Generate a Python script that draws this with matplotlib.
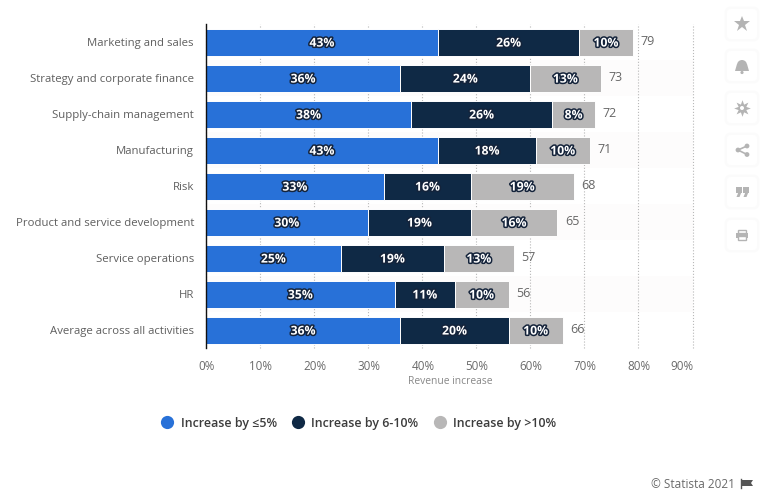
#!/usr/bin/env python3
"""AI revenue increase by business activity, stacked bars in the Statista look."""

import matplotlib
matplotlib.use("Agg")
import matplotlib.pyplot as plt
import matplotlib.patheffects as pe
from matplotlib.patches import Circle, FancyBboxPatch, Polygon, Rectangle, Wedge
from matplotlib.transforms import ScaledTranslation

W, H = 768, 493

categories = ["Marketing and sales", "Strategy and corporate finance", "Supply-chain management",
              "Manufacturing", "Risk", "Product and service development", "Service operations",
              "HR", "Average across all activities"]
low = [43, 36, 38, 43, 33, 30, 25, 35, 36]
mid = [26, 24, 26, 18, 16, 19, 19, 11, 20]
high = [10, 13, 8, 10, 19, 16, 13, 10, 10]
totals = [79, 73, 72, 71, 68, 65, 57, 56, 66]
series_names = ["Increase by ≤5%", "Increase by 6-10%", "Increase by >10%"]
x_ticks = [0, 10, 20, 30, 40, 50, 60, 70, 80, 90]

BLUE, NAVY, GREY = "#2871d8", "#0f2945", "#b8b7b7"
ICON = "#b4b4b4"

plt.rcParams["font.family"] = ["Open Sans", "DejaVu Sans"]


def card(ov, cy):
    ov.add_patch(FancyBboxPatch((729, cy - 13), 26, 26, boxstyle="round,pad=3,rounding_size=5",
                                fc="#fbfbfb", ec="#fbfbfb", lw=2, zorder=1))
    ov.add_patch(FancyBboxPatch((729, cy - 13), 26, 26, boxstyle="round,pad=2,rounding_size=4",
                                fc="white", ec="none", zorder=2))


def draw_icons(ov):
    for cy in [24, 66, 108, 150, 192, 235]:
        card(ov, cy)
    ov.plot([742], [24], marker="*", ms=12, color=ICON, mew=0, zorder=3)
    # bell
    ov.add_patch(Wedge((742, 65), 5, 180, 360, fc=ICON, zorder=3))
    ov.add_patch(Polygon([(737, 64), (747, 64), (749, 71), (735, 71)], fc=ICON, zorder=3))
    ov.add_patch(Circle((742, 72.5), 1.6, fc=ICON, zorder=3))
    # gear
    ov.plot([742], [108], marker=(8, 1, 0), ms=12, color=ICON, mew=0, zorder=3)
    ov.add_patch(Circle((742, 108), 2, fc="white", zorder=4))
    # share
    ov.plot([747, 738, 747], [146, 150, 154.5], color=ICON, lw=1.2, zorder=3)
    for sx, sy in [(747, 146), (738, 150), (747, 154.5)]:
        ov.add_patch(Circle((sx, sy), 2.4, fc=ICON, zorder=3))
    # quote marks
    for qx in [738.5, 745.5]:
        ov.add_patch(Rectangle((qx - 3, 187), 6, 5.5, fc=ICON, zorder=3))
        ov.add_patch(Polygon([(qx, 192), (qx + 3, 192), (qx + 1, 197), (qx - 2, 197)], fc=ICON, zorder=3))
    # printer
    ov.add_patch(Rectangle((738, 230), 8, 3, fc="white", ec=ICON, lw=1, zorder=3))
    ov.add_patch(Rectangle((736, 233), 12, 5, fc=ICON, zorder=3))
    ov.add_patch(Rectangle((738, 236), 8, 4, fc="white", ec=ICON, lw=1, zorder=4))
    # flag next to the copyright
    ov.add_patch(Polygon([(741, 480), (753, 480), (751, 483), (753, 486), (741, 486)], fc="#555555", zorder=3))
    ov.plot([741, 741], [479, 488], color="#555555", lw=1, zorder=3)


def main() -> None:
    fig = plt.figure(figsize=(W / 100, H / 100), dpi=100)
    ax = fig.add_axes([205.8 / W, 1 - 348 / H, 486.7 / W, 324 / H])
    ax.set_xlim(0, 90)
    ax.set_ylim(len(categories) - 0.5, -0.5)

    y = range(len(categories))
    # faint alternate row bands
    for i in range(1, len(categories), 2):
        ax.axhspan(i - 0.5, i + 0.5, color="#fdfcfc", lw=0, zorder=0)

    left = [0] * len(low)
    for vals, color, name in zip([low, mid, high], [BLUE, NAVY, GREY], series_names):
        ax.barh(y, vals, left=left, height=0.75, color=color, edgecolor="white", linewidth=0.7,
                label=name, zorder=2)
        for i, v in enumerate(vals):
            t = ax.text(left[i] + v / 2, i + 0.03, f"{v}%", ha="center", va="center", color="white",
                        fontsize=8.8, fontweight="bold", zorder=4)
            t.set_path_effects([pe.withStroke(linewidth=2.2, foreground="#14233a")])
        left = [a + b for a, b in zip(left, vals)]

    for i, tot in enumerate(totals):
        ax.annotate(str(tot), (left[i], i), xytext=(5.5, 0.5), textcoords="offset points", va="center",
                    fontsize=9, color="#666666")

    ax.set_yticks(list(y), categories)
    ax.set_xticks(x_ticks, [f"{v}%" for v in x_ticks])
    ax.tick_params(axis="y", length=0, pad=8.5, labelsize=8.2, labelcolor="#5f5f5f")
    ax.tick_params(axis="x", length=0, pad=8.5, labelsize=8.4, labelcolor="#6b6b6b")
    nudge = ScaledTranslation(1 / 100, 0, fig.dpi_scale_trans)
    for lab in ax.get_xticklabels():
        lab.set_transform(lab.get_transform() + nudge)
    ax.get_xticklabels()[-1].set_ha("right")
    ax.grid(axis="x", color="#b8b8b8", ls=":", lw=0.8, zorder=1, clip_on=False)
    ax.set_axisbelow(True)
    for s in ["top", "right", "bottom"]:
        ax.spines[s].set_visible(False)
    ax.spines["left"].set_color("#111111")
    ax.spines["left"].set_linewidth(1)

    fig.text(450 / W, 1 - 381 / H, "Revenue increase", ha="center", va="center", fontsize=7.4, color="#888888")

    markers = [plt.Line2D([], [], marker="o", ls="none", ms=9.5, mew=0, color=c) for c in [BLUE, NAVY, GREY]]
    leg = fig.legend(markers, series_names, loc="center", bbox_to_anchor=(355.5 / W, 1 - 423 / H), ncol=3,
                     frameon=False, handletextpad=0.1, columnspacing=0.7,
                     prop={"size": 8.95, "weight": "semibold"})
    for t in leg.get_texts():
        t.set_color("#3c3c3c")

    fig.text(735 / W, 1 - 484 / H, "© Statista 2021", ha="right", va="center", fontsize=8.5, color="#6a6a6a")

    ov = fig.add_axes([0, 0, 1, 1], facecolor="none")
    ov.set_xlim(0, W)
    ov.set_ylim(H, 0)
    ov.axis("off")
    draw_icons(ov)

    fig.savefig("out.png", dpi=100)
    plt.close(fig)


if __name__ == "__main__":
    main()
